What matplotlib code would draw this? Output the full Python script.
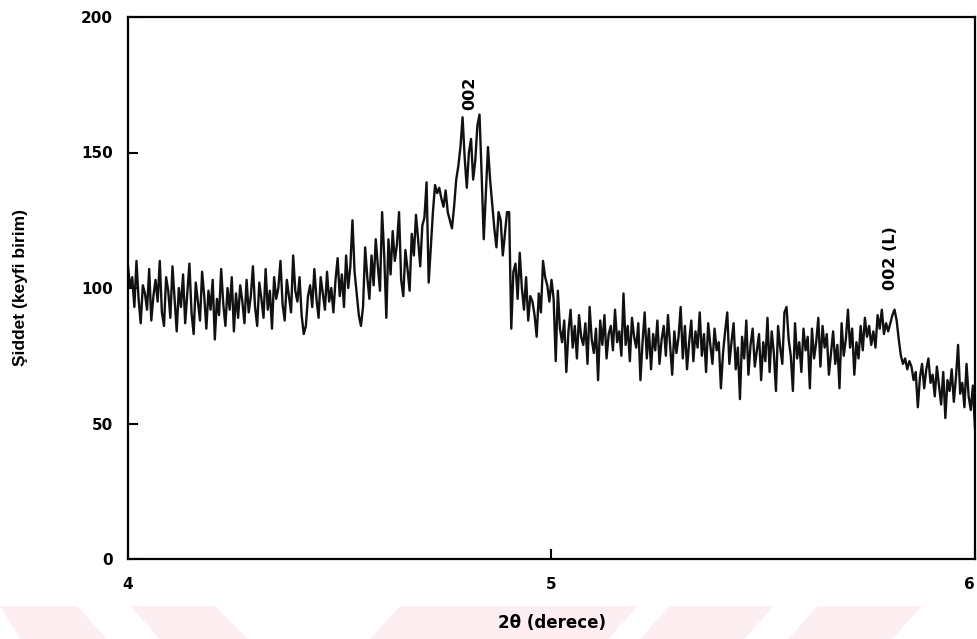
import numpy as np
import matplotlib
matplotlib.use("Agg")
import matplotlib.pyplot as plt
from matplotlib.patches import Polygon

# XRD taraması: 2θ = 4-6 derece, 0.005 adım
intensity = [
    108, 100, 104, 93, 110, 96, 87, 101, 98, 92, 107, 88, 97, 103, 95, 110, 91, 86, 104, 99,
    89, 108, 96, 84, 100, 93, 105, 87, 98, 109, 91, 83, 102, 95, 88, 106, 97, 85, 99, 92,
    103, 81, 96, 90, 107, 94, 86, 100, 92, 104, 84, 98, 89, 101, 95, 87, 103, 91, 97, 108,
    93, 86, 102, 96, 89, 107, 92, 99, 85, 104, 96, 100, 110, 94, 88, 103, 97, 91, 112, 99,
    95, 104, 90, 83, 86, 97, 101, 93, 107, 96, 89, 104, 98, 92, 106, 95, 100, 91, 103, 111,
    97, 105, 93, 112, 100, 108, 125, 106, 98, 90, 86, 93, 115, 104, 96, 112, 101, 118, 108, 99,
    128, 112, 89, 118, 105, 121, 110, 116, 128, 103, 97, 114, 107, 99, 120, 112, 127, 118, 108, 123,
    126, 139, 102, 115, 128, 138, 135, 137, 133, 130, 136, 128, 125, 122, 130, 140, 145, 152, 163, 148,
    137, 150, 155, 140, 147, 160, 164, 142, 118, 135, 152, 140, 131, 122, 115, 128, 125, 112, 120, 128,
    128, 85, 106, 109, 96, 113, 100, 92, 104, 88, 97, 95, 90, 82, 98, 91, 110, 104, 101, 95,
    103, 96, 73, 99, 85, 80, 88, 69, 84, 92, 78, 86, 74, 90, 82, 79, 87, 72, 93, 81,
    76, 85, 66, 88, 79, 90, 74, 83, 86, 77, 92, 80, 84, 75, 98, 79, 86, 73, 89, 82,
    78, 87, 66, 80, 91, 74, 85, 70, 83, 77, 88, 72, 81, 86, 75, 90, 79, 68, 84, 76,
    82, 93, 74, 86, 70, 80, 88, 73, 84, 78, 91, 75, 83, 69, 87, 79, 72, 85, 77, 80,
    63, 76, 84, 91, 72, 80, 87, 70, 78, 59, 82, 74, 88, 68, 79, 85, 71, 77, 83, 66,
    80, 73, 89, 69, 84, 76, 62, 86, 78, 72, 91, 93, 81, 75, 62, 87, 74, 80, 69, 85,
    77, 82, 63, 85, 74, 80, 89, 71, 86, 78, 83, 68, 76, 84, 72, 79, 63, 87, 75, 81,
    92, 78, 85, 68, 80, 74, 86, 77, 89, 82, 86, 79, 84, 78, 90, 85, 92, 83, 87, 84,
    87, 90, 92, 88, 81, 75, 72, 74, 70, 73, 71, 66, 69, 56, 67, 72, 63, 70, 74, 65,
    68, 60, 71, 64, 57, 69, 52, 66, 62, 70, 58, 67, 79, 61, 65, 56, 72, 60, 55, 64, 48,
]
two_theta = np.linspace(4, 6, len(intensity))

x_ticks = [4, 5, 6]
y_ticks = [0, 50, 100, 150, 200]

peak_labels = ["002", "002 (L)"]
peak_pos = [4.808, 5.80]
peak_y = [172, 111]

# arka plandaki pembe şeritler (piksel koordinatı)
W, H = 978, 639
stripes = [
    [(0, 606), (77, 606), (107, 639), (20, 639)],
    [(130, 606), (215, 606), (248, 639), (160, 639)],
    [(400, 606), (638, 606), (608, 639), (370, 639)],
    [(670, 606), (774, 606), (744, 639), (640, 639)],
    [(818, 606), (922, 606), (892, 639), (788, 639)],
]

fig = plt.figure(figsize=(W / 100, H / 100), dpi=100)
for s in stripes:
    pts = [(px / W, 1 - py / H) for px, py in s]
    fig.patches.append(Polygon(pts, closed=True, transform=fig.transFigure,
                               facecolor="#fdeef1", edgecolor="none", zorder=-5))

ax = fig.add_axes([128 / W, 1 - 559 / H, (975 - 128) / W, (559 - 17) / H])
ax.set_zorder(2)
ax.patch.set_alpha(0)
ax.plot(two_theta, intensity, color="#111111", lw=1.7)

ax.set_xlim(4, 6)
ax.set_ylim(0, 200)
ax.set_xticks(x_ticks)
ax.set_yticks(y_ticks)
ax.tick_params(direction="in", length=7, width=1.5, pad=11)
ax.tick_params(axis="x", pad=13)
for lab in ax.get_xticklabels() + ax.get_yticklabels():
    lab.set_fontfamily("DejaVu Sans")
    lab.set_fontweight("bold")
    lab.set_fontsize(11)
# son etiket kenara taşmasın
ax.get_xticklabels()[-1].set_horizontalalignment("right")
for sp in ax.spines.values():
    sp.set_linewidth(1.6)

ax.set_xlabel("2θ (derece)", fontfamily="DejaVu Sans", fontweight="bold",
              fontsize=12, labelpad=16)
ax.set_ylabel("Şiddet (keyfi birim)", fontfamily="Liberation Sans",
              fontweight="bold", fontsize=12.5, labelpad=38)

for lab, px, py in zip(peak_labels, peak_pos, peak_y):
    ax.text(px, py, lab, rotation=90, ha="center", va="center",
            fontfamily="DejaVu Sans", fontweight="bold", fontsize=11.5)

fig.savefig("out.png", dpi=100)
